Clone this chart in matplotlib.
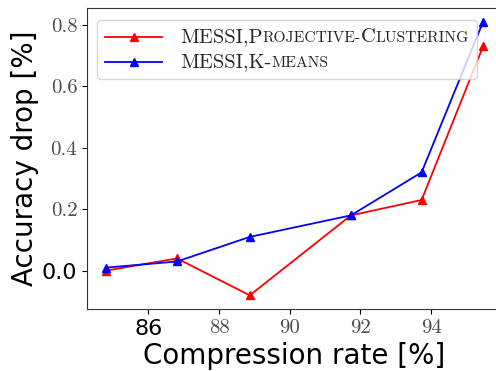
import numpy as np
import matplotlib
matplotlib.use("Agg")
import matplotlib.pyplot as plt
from matplotlib.lines import Line2D
from matplotlib.offsetbox import (AnchoredOffsetbox, TextArea, HPacker,
                                  VPacker, DrawingArea)

# data
compression = [84.8, 86.81, 88.87, 91.73, 93.73, 95.47]
acc_proj = [0.0, 0.04, -0.08, 0.18, 0.23, 0.73]
acc_kmeans = [0.01, 0.03, 0.11, 0.18, 0.32, 0.81]
xticks = [86, 88, 90, 92, 94]
xtick_labels = ['86', '88', '90', '92', '94']
yticks = [0.0, 0.2, 0.4, 0.6, 0.8]
ytick_labels = ['0.0', '0.2', '0.4', '0.6', '0.8']
# legend labels split into (text, small-caps?) pieces
label_proj = [('MESSI,P', False), ('ROJECTIVE-', True), ('C', False), ('LUSTERING', True)]
label_kmeans = [('MESSI,K-', False), ('MEANS', True)]

fig = plt.figure(figsize=(4.96, 3.71), dpi=100)
ax = fig.add_axes([87/496, 62/371, 415/496, 301/371])

ax.plot(compression, acc_proj, color='red', marker='^', markersize=6, lw=1.3)
ax.plot(compression, acc_kmeans, color='blue', marker='^', markersize=6, lw=1.3)

ax.set_xticks(xticks, xtick_labels)
ax.set_yticks(yticks, ytick_labels)
for lab in ax.get_xticklabels() + ax.get_yticklabels():
    if lab.get_text() in ('86', '0.0'):
        lab.set_fontfamily('DejaVu Sans')
        lab.set_fontsize(16)
        lab.set_color('black')
    else:
        lab.set_fontfamily('cmr10')
        lab.set_fontsize(15)
        lab.set_color('0.3')
for s in ax.spines.values():
    s.set_color('0.2')

ax.set_xlabel('Compression rate [%]', fontsize=20, labelpad=2)
ax.set_ylabel('Accuracy drop [%]', fontsize=20, labelpad=2)


# legend with small caps built from pieces
def legend_row(color, pieces):
    da = DrawingArea(41, 10, 0, 0)
    da.add_artist(Line2D([0, 41], [5, 5], color=color, lw=1.3))
    da.add_artist(Line2D([20.5], [5], color=color, marker='^', markersize=6))
    parts = []
    for txt, small in pieces:
        size = 11.2 if small else 14.8
        parts.append(TextArea(txt, textprops=dict(family='cmr10', size=size,
                                                  color='0.15')))
    text = HPacker(children=parts, align='baseline', pad=0, sep=0)
    return HPacker(children=[da, text], align='center', pad=0, sep=13)


rows = VPacker(children=[legend_row('red', label_proj),
                         legend_row('blue', label_kmeans)],
               align='left', pad=5, sep=5)
leg = AnchoredOffsetbox(loc='upper left', child=rows, frameon=True,
                        bbox_to_anchor=(0.024, 0.96), bbox_transform=ax.transAxes,
                        borderpad=0, pad=0.1)
leg.patch.set_boxstyle('round,pad=0,rounding_size=0.3')
leg.patch.set_edgecolor('0.8')
leg.patch.set_alpha(0.8)
ax.add_artist(leg)

fig.savefig('out.png', dpi=100)
